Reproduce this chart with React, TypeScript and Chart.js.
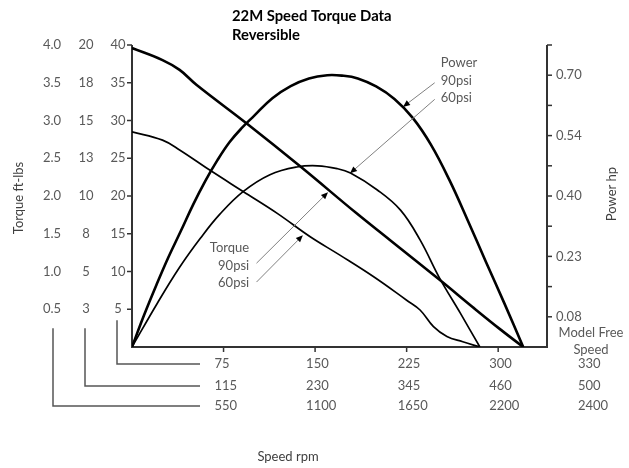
import React, { useEffect, useRef } from 'react';
import { Chart, registerables } from 'chart.js';

Chart.register(...registerables);

// ---- data (speed on x in base rpm units, torque on the 0-40 scale, power in hp) ----
const torque90X = [0, 25, 39, 53, 94, 138, 184, 211, 252, 279, 302, 320.5];
const torque90Y = [39.6, 38.0, 36.7, 34.7, 29.6, 23.9, 17.7, 14.2, 8.9, 5.3, 2.3, 0];

const torque60X = [0, 25, 39, 64, 91, 119, 146, 170, 198, 225, 236, 247, 258, 271, 285];
const torque60Y = [28.5, 27.4, 26.1, 23.4, 20.6, 17.7, 14.6, 12.2, 9.3, 6.2, 4.9, 2.7, 1.4, 0.7, 0];

const power90X = [0, 10, 20, 30, 40, 50, 60, 70, 80, 90, 100, 115, 130, 145, 160, 172, 185, 200, 215, 230, 245, 260, 275, 290, 305, 320.5];
const power90Y = [0, 0.08, 0.154, 0.224, 0.288, 0.353, 0.412, 0.464, 0.509, 0.544, 0.574, 0.618, 0.648, 0.667, 0.675, 0.674, 0.667, 0.647, 0.616, 0.569, 0.502, 0.415, 0.315, 0.211, 0.109, 0];

const power60X = [0, 21, 39, 56, 72, 91, 113, 135, 152, 168, 179, 201, 220, 236, 252, 269, 285];
const power60Y = [0, 0.11, 0.198, 0.27, 0.33, 0.386, 0.428, 0.447, 0.45, 0.443, 0.432, 0.39, 0.34, 0.266, 0.171, 0.084, 0];

// ---- axis tick labels ----
const torqueTickValues = [40, 35, 30, 25, 20, 15, 10, 5];
const torqueLabelsA = ['4.0', '3.5', '3.0', '2.5', '2.0', '1.5', '1.0', '0.5'];
const torqueLabelsB = ['20', '18', '15', '13', '10', '8', '5', '3'];
const torqueLabelsC = ['40', '35', '30', '25', '20', '15', '10', '5'];

const speedTickValues = [75, 150, 225, 300];
const speedLabelsA = ['75', '150', '225', '300', '330'];
const speedLabelsB = ['115', '230', '345', '460', '500'];
const speedLabelsC = ['550', '1100', '1650', '2200', '2400'];

const powerStep = 0.075;
const powerTickLabels = ['', '0.08', '', '0.23', '', '0.40', '', '0.54', '', '0.70', ''];

const titleLines = ['22M Speed Torque Data', 'Reversible'];

// annotations in data units (x: speed, y: torque scale)
const annotationTexts = [
  { lines: ['Power', '90psi', '60psi'], x: 253, y: 37.6, align: 'left' },
  { lines: ['Torque', '90psi', '60psi'], x: 96, y: 13.1, align: 'right' },
];
const arrows = [
  { from: [248, 35.0], to: [222, 31.8] },
  { from: [248, 32.8], to: [178.6, 23.0] },
  { from: [102, 11.1], to: [160.6, 20.5] },
  { from: [102, 8.6], to: [140, 14.8] },
];

const FONT = 'Lato, "Open Sans", sans-serif';
const TEXT = '#595959';
const AXIS = '#333333';

const toPts = (xs: number[], ys: number[]) => xs.map((x, i) => ({ x, y: ys[i] }));

const decor = {
  id: 'decor',
  beforeDatasetsDraw(chart: any) {
    const { ctx, chartArea } = chart;
    const { left, right, top, bottom } = chartArea;
    const x = chart.scales.x;
    const y = chart.scales.y;
    const y1 = chart.scales.y1;
    const ln = (a: number, b: number, c: number, d: number) => {
      ctx.beginPath();
      ctx.moveTo(a, b);
      ctx.lineTo(c, d);
      ctx.stroke();
    };
    ctx.save();
    // axes
    ctx.strokeStyle = AXIS;
    ctx.lineWidth = 2;
    ln(left, top, left, bottom + 1);
    ln(left - 1, bottom, right + 1, bottom);
    ln(right, top, right, bottom + 1);
    // tick marks
    ctx.lineWidth = 1.5;
    torqueTickValues.forEach((v) => {
      const py = y.getPixelForValue(v);
      ln(left - 5, py, left, py);
    });
    speedTickValues.forEach((v) => {
      const px = x.getPixelForValue(v);
      ln(px, bottom, px, bottom + 5);
    });
    for (let i = 1; i <= 10; i++) {
      const py = y1.getPixelForValue(i * powerStep);
      ln(right, py, right + 5, py);
    }
    // left labels (three columns)
    ctx.fillStyle = TEXT;
    ctx.font = `13px ${FONT}`;
    ctx.textBaseline = 'middle';
    ctx.textAlign = 'center';
    const colA = left - 80, colB = left - 46, colC = left - 14;
    torqueTickValues.forEach((v, i) => {
      const py = y.getPixelForValue(v);
      ctx.fillText(torqueLabelsA[i], colA, py);
      ctx.fillText(torqueLabelsB[i], colB, py);
      ctx.fillText(torqueLabelsC[i], colC, py);
    });
    // right labels
    ctx.textAlign = 'left';
    powerTickLabels.forEach((t, i) => {
      if (!t) return;
      ctx.fillText(t, right + 9, y1.getPixelForValue(i * powerStep));
    });
    // bottom label rows
    const rows = [speedLabelsA, speedLabelsB, speedLabelsC];
    const rowY = [bottom + 17, bottom + 39, bottom + 59];
    const colX = speedTickValues.map((v) => x.getPixelForValue(v) - 9);
    colX.push(right + 31);
    rows.forEach((row, r) => {
      row.forEach((t, c) => ctx.fillText(t, colX[c], rowY[r]));
    });
    ctx.textAlign = 'center';
    ctx.fillText('Model Free', right + 44, bottom - 14);
    ctx.fillText('Speed', right + 44, bottom + 3);
    // brackets
    ctx.strokeStyle = '#555555';
    ctx.lineWidth = 1.5;
    const lastY = y.getPixelForValue(5);
    const bx = left + 68;
    [[colC - 1, lastY + 11, rowY[0]], [colB - 1, lastY + 19, rowY[1]], [colA + 1, lastY + 19, rowY[2]]].forEach(([cx, y0, y2]) => {
      ctx.beginPath();
      ctx.moveTo(cx, y0);
      ctx.lineTo(cx, y2);
      ctx.lineTo(bx, y2);
      ctx.stroke();
    });
    // axis titles
    ctx.fillStyle = '#404040';
    ctx.font = `13px ${FONT}`;
    ctx.textAlign = 'center';
    ctx.fillText('Speed rpm', 288, 457);
    ctx.save();
    ctx.translate(19, 198);
    ctx.rotate(-Math.PI / 2);
    ctx.fillText('Torque ft-lbs', 0, 0);
    ctx.restore();
    ctx.save();
    ctx.translate(612, 194);
    ctx.rotate(-Math.PI / 2);
    ctx.fillText('Power hp', 0, 0);
    ctx.restore();
    // title
    ctx.fillStyle = '#000000';
    ctx.font = `bold 14.8px ${FONT}`;
    ctx.textAlign = 'left';
    ctx.fillText(titleLines[0], 232, 16);
    ctx.fillText(titleLines[1], 232, 35);
    ctx.restore();
  },
  afterDatasetsDraw(chart: any) {
    const { ctx } = chart;
    const x = chart.scales.x;
    const y = chart.scales.y;
    ctx.save();
    ctx.font = `13px ${FONT}`;
    ctx.fillStyle = TEXT;
    ctx.textBaseline = 'middle';
    annotationTexts.forEach((a) => {
      ctx.textAlign = a.align;
      const px = x.getPixelForValue(a.x);
      const py = y.getPixelForValue(a.y);
      a.lines.forEach((t, i) => ctx.fillText(t, px, py + i * 17.5));
    });
    arrows.forEach((a) => {
      const x0 = x.getPixelForValue(a.from[0]);
      const y0 = y.getPixelForValue(a.from[1]);
      const x1 = x.getPixelForValue(a.to[0]);
      const y1 = y.getPixelForValue(a.to[1]);
      const ang = Math.atan2(y1 - y0, x1 - x0);
      ctx.strokeStyle = '#808080';
      ctx.lineWidth = 1;
      ctx.beginPath();
      ctx.moveTo(x0, y0);
      ctx.lineTo(x1 - 5 * Math.cos(ang), y1 - 5 * Math.sin(ang));
      ctx.stroke();
      ctx.fillStyle = '#000000';
      ctx.beginPath();
      ctx.moveTo(x1, y1);
      ctx.lineTo(x1 - 7 * Math.cos(ang) + 3 * Math.sin(ang), y1 - 7 * Math.sin(ang) - 3 * Math.cos(ang));
      ctx.lineTo(x1 - 7 * Math.cos(ang) - 3 * Math.sin(ang), y1 - 7 * Math.sin(ang) + 3 * Math.cos(ang));
      ctx.closePath();
      ctx.fill();
    });
    ctx.restore();
  },
};

export default function App() {
  const ref = useRef<HTMLCanvasElement>(null);
  useEffect(() => {
    if (!ref.current) return;
    const line = (data: any[], axis: string, w: number) => ({
      data,
      yAxisID: axis,
      showLine: true,
      borderColor: '#000000',
      borderWidth: w,
      pointRadius: 0,
      tension: 0.4,
      fill: false,
    });
    const chart = new Chart(ref.current, {
      type: 'scatter',
      data: {
        datasets: [
          line(toPts(torque90X, torque90Y), 'y', 2.6),
          line(toPts(torque60X, torque60Y), 'y', 1.7),
          line(toPts(power90X, power90Y), 'y1', 2.6),
          line(toPts(power60X, power60Y), 'y1', 1.7),
        ],
      } as any,
      options: {
        animation: false,
        responsive: false,
        devicePixelRatio: 1,
        layout: { padding: { left: 132, top: 45, right: 82, bottom: 121 } },
        plugins: { legend: { display: false }, tooltip: { enabled: false } },
        scales: {
          x: { type: 'linear', min: 0, max: 340, display: false },
          y: { type: 'linear', min: 0, max: 40, display: false },
          y1: { type: 'linear', min: 0, max: 0.75, display: false, position: 'right' },
        },
      } as any,
      plugins: [decor],
    });
    return () => chart.destroy();
  }, []);
  return (
    <div style={{ position: 'fixed', left: 0, top: 0, width: 629, height: 468, background: '#fff' }}>
      <canvas ref={ref} width={629} height={468} />
    </div>
  );
}
